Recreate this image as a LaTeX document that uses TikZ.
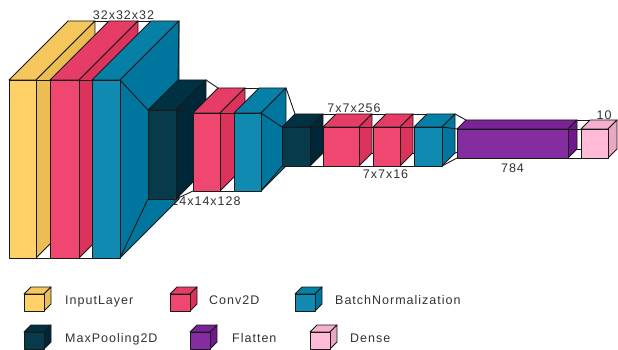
\documentclass[tikz,border=0pt]{standalone}
\usepackage{fontspec}
\setmainfont{Liberation Sans}
\newfontfamily\klab[LetterSpace=8]{Liberation Sans}
\definecolor{kyel}{HTML}{FFD166}\definecolor{kyeltop}{HTML}{F5C75C}\definecolor{kyelside}{HTML}{EBBD52}
\definecolor{kred}{HTML}{EF476F}\definecolor{kredtop}{HTML}{E53D65}\definecolor{kredside}{HTML}{DB335B}
\definecolor{kblu}{HTML}{118AB2}\definecolor{kblutop}{HTML}{0780A8}\definecolor{kbluside}{HTML}{00769E}
\definecolor{kdrk}{HTML}{073B4C}\definecolor{kdrktop}{HTML}{003142}\definecolor{kdrkside}{HTML}{002738}
\definecolor{kpur}{HTML}{842DA1}\definecolor{kpurtop}{HTML}{7A2397}\definecolor{kpurside}{HTML}{70198D}
\definecolor{kpnk}{HTML}{FFBAD5}\definecolor{kpnktop}{HTML}{F5B0CB}\definecolor{kpnkside}{HTML}{EBA6C1}
% box: x1 y1 x2 y2 depth colour
\newcommand{\kbox}[6]{%
  \filldraw[edge, fill=#6top] (#1,#2) -- ({#1+#5},{#2-#5}) -- ({#3+#5},{#2-#5}) -- (#3,#2) -- cycle;
  \filldraw[edge, fill=#6side] ({#3+#5},{#2-#5}) -- (#3,#2) -- (#3,#4) -- ({#3+#5},{#4-#5}) -- cycle;
  \filldraw[edge, fill=#6] (#1,#2) rectangle (#3,#4);
  \xdef\kpxb{#3}\xdef\kpya{#2}\xdef\kpyb{#4}\xdef\kpde{#5}%
}
% funnel from previous box to next: x1 y1 y2 depth
\newcommand{\kfun}[4]{%
  \draw[edge] (\kpxb,\kpya) -- (#1,#2);
  \draw[edge] ({\kpxb+\kpde},{\kpya-\kpde}) -- ({#1+#4},{#2-#4});
  \draw[edge] (\kpxb,\kpyb) -- (#1,#3);
  \draw[edge] ({\kpxb+\kpde},{\kpyb-\kpde}) -- ({#1+#4},{#3-#4});
}
\begin{document}
\begin{tikzpicture}[x=1pt,y=-1pt,
  edge/.style={draw=black!90, line width=0.9pt, line join=round},
  lbl/.style={font=\klab\fontsize{12.5}{15}\selectfont, inner sep=0pt, text=black!80}]
\fill[white] (0,0) rectangle (618,350);
\useasboundingbox (0,0) rectangle (618,350);
% layers
\kbox{9}{80}{36}{258}{59}{kyel}
\kfun{50}{80}{258}{59}\kbox{50}{80}{79}{258}{59}{kred}
\kfun{92}{80}{258}{59}\kbox{92}{80}{120}{258}{59}{kblu}
\kfun{148}{110}{199}{30}\kbox{148}{110}{176}{199}{30}{kdrk}
\kfun{193}{113}{191}{25}\kbox{193}{113}{220}{191}{25}{kred}
\kfun{234}{113}{191}{25}\kbox{234}{113}{261}{191}{25}{kblu}
\kfun{282}{127}{166}{13}\kbox{282}{127}{310}{166}{13}{kdrk}
\kfun{323}{127}{166}{13}\kbox{323}{127}{359}{166}{13}{kred}
\kfun{373}{127}{166}{13}\kbox{373}{127}{400}{166}{13}{kred}
\kfun{414}{127}{166}{13}\kbox{414}{127}{442}{166}{13}{kblu}
\kfun{457}{129}{158}{9}\kbox{457}{129}{568}{158}{9}{kpur}
\kfun{581}{129}{158}{9}\kbox{581}{129}{608}{158}{9}{kpnk}
% dimension labels
\node[lbl, anchor=base] (d1) at (123.5,20) {32x32x32};
\node[lbl, anchor=base] (d2) at (206,205) {14x14x128};
\node[lbl, anchor=base] (d3) at (354,113) {7x7x256};
\node[lbl, anchor=base] (d4) at (385.5,178) {7x7x16};
\node[lbl, anchor=base] (d5) at (512.5,172) {784};
\node[lbl, anchor=base] (d6) at (604,120) {10};
% legend
\kbox{24}{294}{44}{311}{7}{kyel}
\kbox{170}{294}{190}{311}{7}{kred}
\kbox{295}{294}{315}{311}{7}{kblu}
\kbox{24}{332}{44}{349}{7}{kdrk}
\kbox{190}{332}{210}{349}{7}{kpur}
\kbox{310}{332}{330}{349}{7}{kpnk}
\node[lbl, anchor=base west] (g1) at (65,304) {InputLayer};
\node[lbl, anchor=base west] (g2) at (209,304) {Conv2D};
\node[lbl, anchor=base west] (g3) at (335,304) {BatchNormalization};
\node[lbl, anchor=base west] (g4) at (65,342) {MaxPooling2D};
\node[lbl, anchor=base west] (g5) at (232,342) {Flatten};
\node[lbl, anchor=base west] (g6) at (350,342) {Dense};
\end{tikzpicture}
\end{document}
